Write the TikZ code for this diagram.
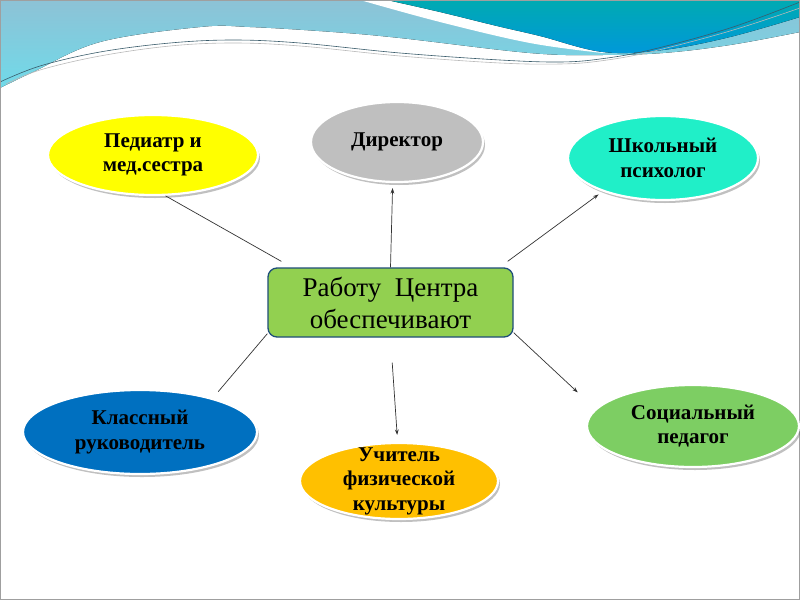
\documentclass[tikz,border=0pt]{standalone}
\usepackage{fontspec}
\setmainfont{Liberation Serif}
\usetikzlibrary{shapes.geometric,shadows,arrows.meta}
\definecolor{lbA}{HTML}{8DC2D6}
\definecolor{lbB}{HTML}{70DAE9}
\definecolor{dkA}{HTML}{00AAB2}
\definecolor{dkB}{HTML}{0098DA}
\definecolor{linedk}{HTML}{3A5C6B}
\definecolor{cYel}{HTML}{FFFF00}
\definecolor{cGry}{HTML}{BFBFBF}
\definecolor{cCyn}{HTML}{20EFC8}
\definecolor{cBlu}{HTML}{0070C0}
\definecolor{cOrg}{HTML}{FFC000}
\definecolor{cGrn}{HTML}{7DCE63}
\definecolor{cCtr}{HTML}{92D050}
\definecolor{cCtrB}{HTML}{1F4E79}
\begin{document}
\begin{tikzpicture}[x=1pt,y=-1pt,
  ell/.style={ellipse, draw=white, line width=2.2pt, inner sep=-14pt, align=center,
    text=black, font=\bfseries\fontsize{21}{24.5}\selectfont,
    drop shadow={shadow xshift=2pt, shadow yshift=-3pt, opacity=0.35, fill=black!70}},
  ctrbox/.style={rectangle, rounded corners=9pt, draw=cCtrB, line width=1.3pt, fill=cCtr,
    align=center, inner sep=0pt, text=black, font=\fontsize{27}{32}\selectfont},
  conn/.style={draw=black!80, line width=0.7pt},
  arr/.style={conn, -{Stealth[length=5.5pt,width=3.8pt]}}
]
\useasboundingbox (0,0) rectangle (800,600);
\fill[white] (0,0) rectangle (800,600);
% banner
\fill[top color=lbA, bottom color=lbB] (0,0) -- (800,0) -- plot[smooth, tension=0.6] coordinates
  {(800,32) (730,45) (663,53) (600,55) (530,53) (400,38) (333,32) (250,27) (200,27) (100,42) (33,72) (0,88)} -- cycle;
\fill[white] (360,0) -- plot[smooth, tension=0.6] coordinates {(360,0) (440,22) (530,43) (603,53)} -- (800,14) -- (800,0) -- cycle;
\fill[top color=dkA, bottom color=dkB] (387,0) -- (800,0) -- plot[smooth, tension=0.6] coordinates
  {(800,17) (730,37) (663,50) (603,52) (540,36) (497,26) (440,12) (387,0)} -- cycle;
\draw[line width=0.6pt, linedk] plot[smooth, tension=0.6] coordinates
  {(0,82) (40,66) (100,52) (170,43) (233,40) (300,43) (400,53) (500,60) (560,62) (600,59) (650,50) (730,28) (800,2)};
\draw[line width=0.6pt, gray!55] plot[smooth, tension=0.6] coordinates
  {(6,84) (40,70) (100,56) (170,46) (233,43) (300,46) (400,56) (500,63) (560,64) (600,61) (650,52) (730,31) (800,8)};
\draw[gray!75, line width=1pt] (0.5,0.5) rectangle (799.5,599.5);
% nodes
\node[ell, fill=cYel, minimum width=210pt, minimum height=80pt] (ped) at (153,155) {Педиатр и\\мед.сестра};
\node[ell, fill=cGry, minimum width=172pt, minimum height=80pt] (dir) at (397,142) {Директор};
\node[ell, fill=cCyn, minimum width=190pt, minimum height=84pt] (psy) at (663,158) {Школьный\\психолог};
\node[ell, fill=cBlu, minimum width=234pt, minimum height=84pt] (cls) at (140,432) {Классный\\руководитель};
\node[ell, fill=cOrg, minimum width=198pt, minimum height=76pt] (tea) at (399,481) {Учитель\\физической\\культуры};
\node[ell, fill=cGrn, minimum width=212pt, minimum height=82pt] (soc) at (693,426) {Социальный\\педагог};
\node[ctrbox, minimum width=245pt, minimum height=69pt] (ctr) at (390.5,302.5) {Работу\ \ Центра\\обеспечивают};
% connectors
\draw[conn] (ped.-73) -- ([shift={(14,-6)}]ctr.north west);
\draw[arr, shorten >=5pt] (ctr.north) -- (dir.264.7);
\draw[arr, shorten >=5pt] ([shift={(-6,-6)}]ctr.north east) -- (psy.209.2);
\draw[arr, shorten >=24pt] ([shift={(0,-5)}]ctr.south east) -- (soc.170);
\draw[arr, shorten <=25pt, shorten >=7pt] (ctr.south) -- (tea.92.6);
\draw[conn, shorten >=8.5pt] ([shift={(0,-4)}]ctr.south west) -- (cls.25);
\end{tikzpicture}
\end{document}
